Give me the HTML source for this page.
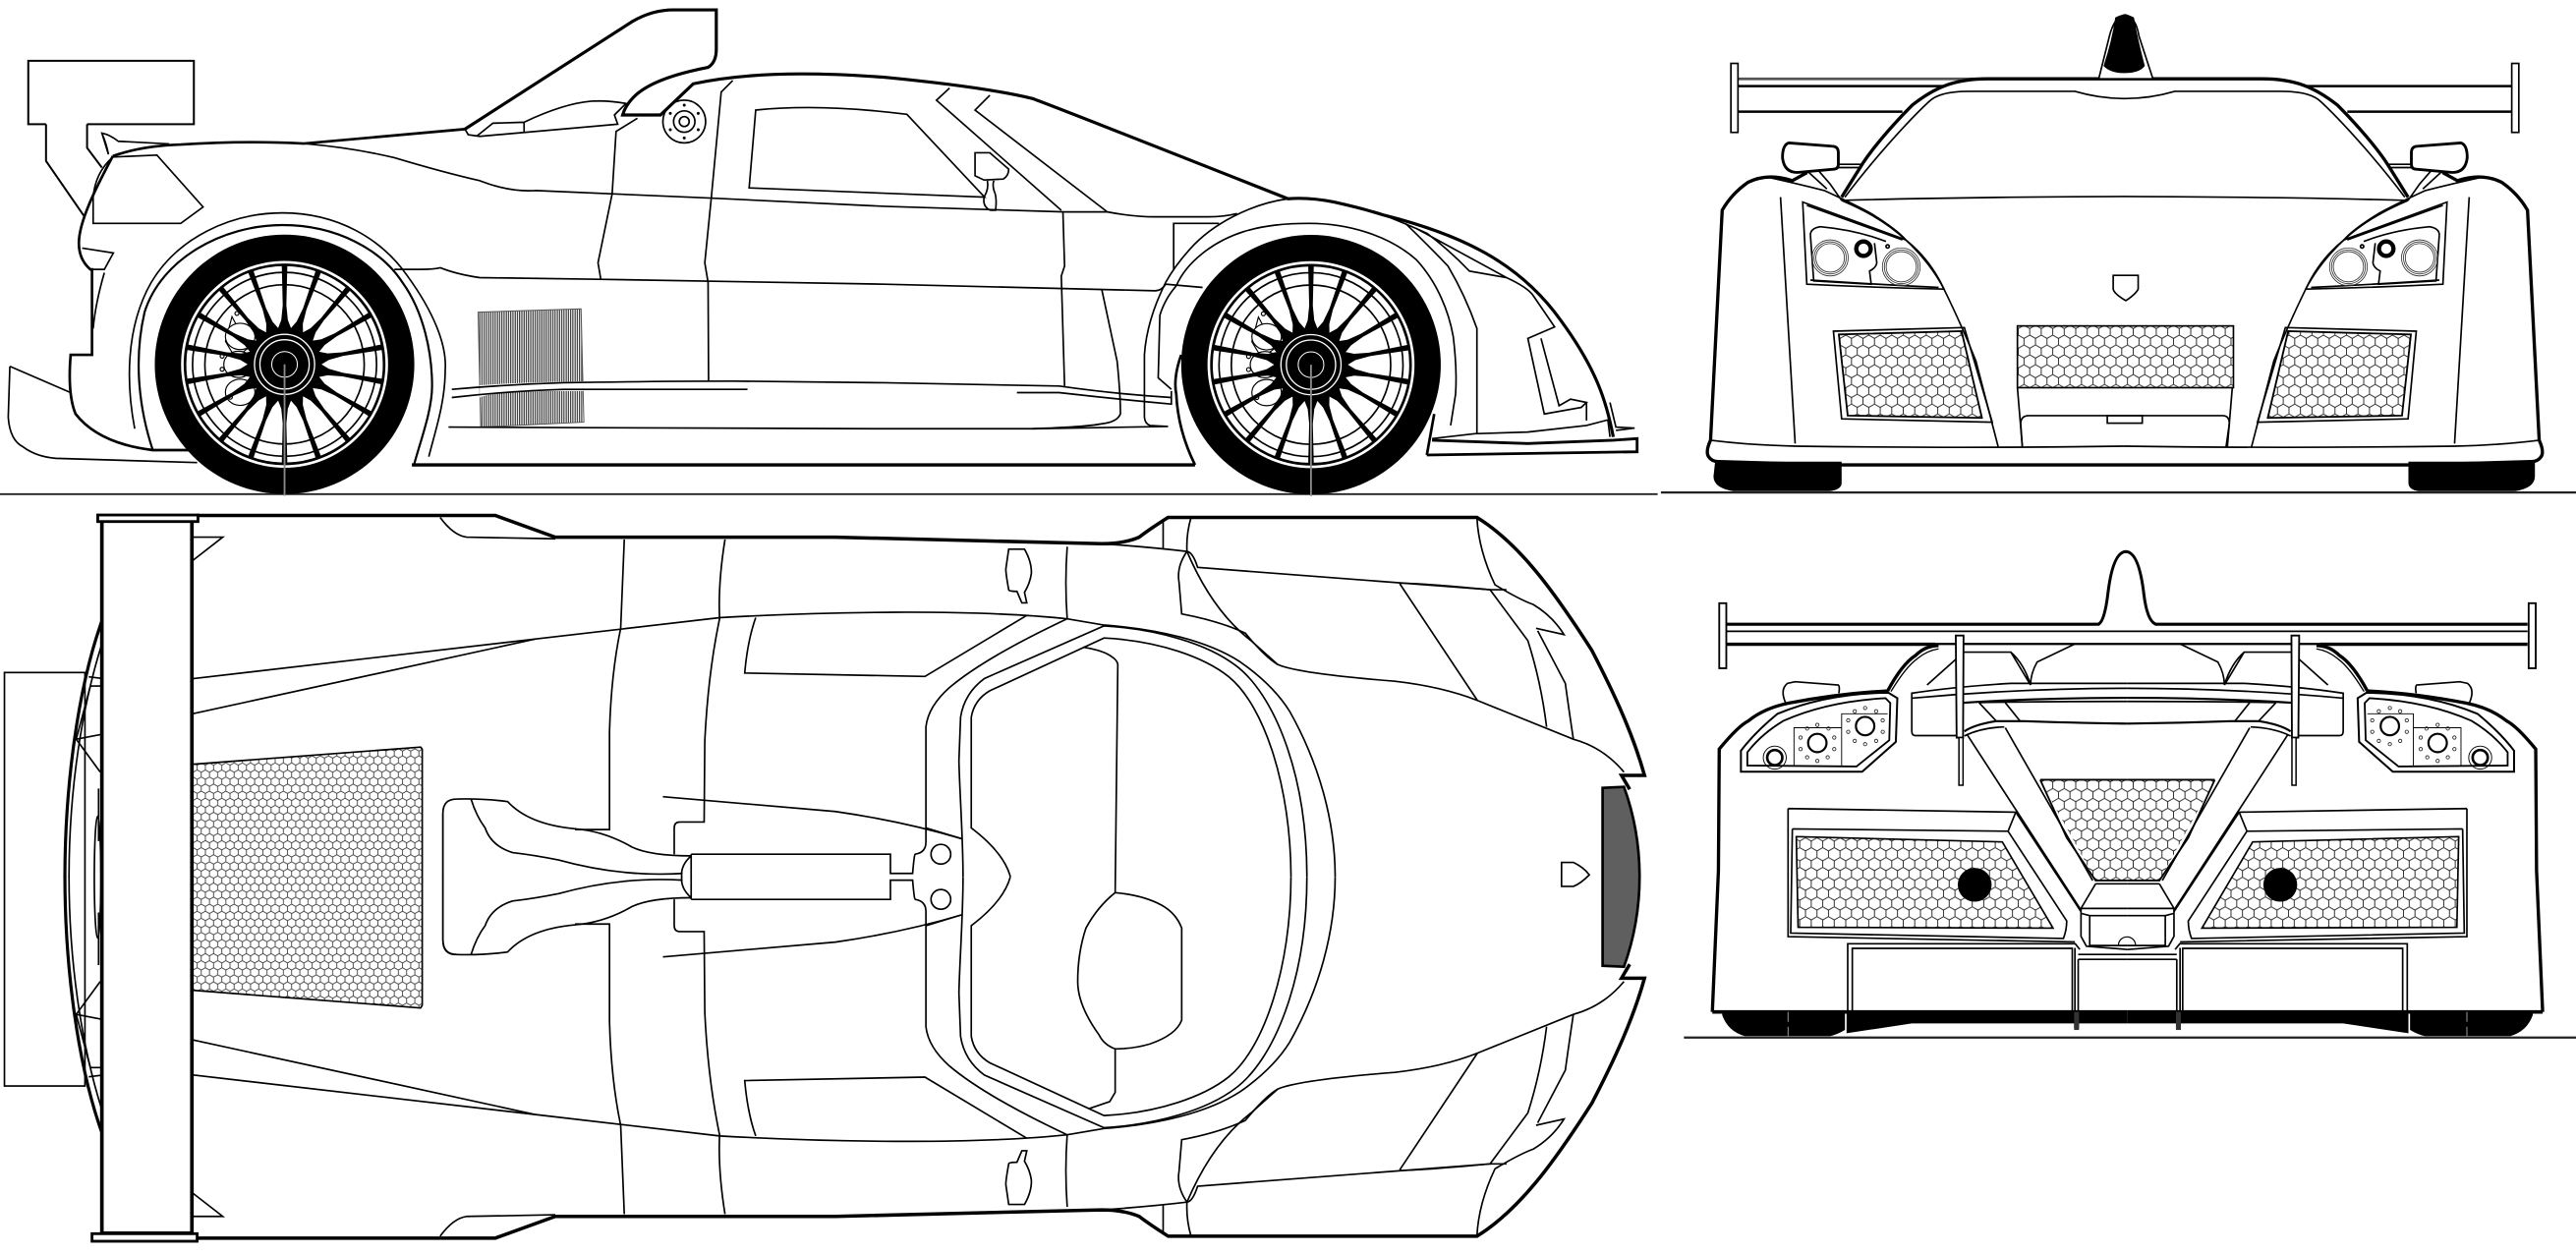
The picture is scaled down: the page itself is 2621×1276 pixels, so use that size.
<!DOCTYPE html>
<html><head><meta charset="utf-8"><title>Blueprint</title>
<style>html,body{margin:0;padding:0;background:#fff}svg{display:block}</style></head>
<body>
<svg xmlns="http://www.w3.org/2000/svg" width="2621" height="1276" viewBox="0 0 1568 763.37">
<defs>
<pattern id="hex" width="7" height="12" patternUnits="userSpaceOnUse"><path d="M0,2L3.5,0L7,2V6L3.5,8L0,6ZM3.5,8V12" fill="none" stroke="#222" stroke-width=".55"/></pattern>
<pattern id="hexs" width="5" height="8.6" patternUnits="userSpaceOnUse"><path d="M0,1.43L2.5,0L5,1.43V4.3L2.5,5.73L0,4.3ZM2.5,5.73V8.6" fill="none" stroke="#333" stroke-width=".5"/></pattern>
<pattern id="hatch" width="1.35" height="10" patternUnits="userSpaceOnUse"><path d="M.4,0V10" stroke="#111" stroke-width=".6"/></pattern>
<polygon id="sp" points="-1.7,-60.5 1.7,-60.5 1.1,-36 2,-27 5.5,-18 -5.5,-18 -2,-27 -1.1,-36" fill="#000"/>
<g id="wheel">
<circle r="79" fill="#000"/><circle r="63" fill="#fff"/>
<g fill="none" stroke="#000"><circle r="60.6" stroke-width="1.6"/><circle r="56" stroke-width="1"/><circle r="48.5" stroke-width="1"/></g>
<g fill="#fff" stroke="#000" stroke-width=".7"><path d="M-32,-29L-24,-14L-22,-10L-30,-4L-36,-14Z" fill="none"/><ellipse cx="-27" cy="-17" rx="9" ry="8"/><ellipse cx="-28" cy="0" rx="9" ry="8"/><ellipse cx="-27" cy="17" rx="9" ry="8"/><circle cx="-38" cy="-5" r="1.2"/><circle cx="-38" cy="3" r="1.2"/><circle cx="-33" cy="20" r="1.2"/><circle cx="-29" cy="-31" r="1.2"/></g>
<use href="#sp"/><use href="#sp" transform="rotate(20)"/><use href="#sp" transform="rotate(40)"/><use href="#sp" transform="rotate(60)"/><use href="#sp" transform="rotate(80)"/><use href="#sp" transform="rotate(100)"/><use href="#sp" transform="rotate(120)"/><use href="#sp" transform="rotate(140)"/><use href="#sp" transform="rotate(160)"/><use href="#sp" transform="rotate(180)"/><use href="#sp" transform="rotate(200)"/><use href="#sp" transform="rotate(220)"/><use href="#sp" transform="rotate(240)"/><use href="#sp" transform="rotate(260)"/><use href="#sp" transform="rotate(280)"/><use href="#sp" transform="rotate(300)"/><use href="#sp" transform="rotate(320)"/><use href="#sp" transform="rotate(340)"/>
<circle r="20" fill="#000"/>
<g fill="none" stroke="#fff"><circle r="18.3" stroke-width=".8"/><circle r="15" stroke-width=".8"/><circle r="7.8" stroke-width=".6"/></g>
<path d="M0,0V80" stroke="#8a8a8a" stroke-width="1.1"/>
</g>

<!-- TOP VIEW half -->
<g id="tophalf" fill="none" stroke="#000" stroke-width="1">
<path d="M62,378C47,420 39.5,480 39.5,534" stroke-width="1.9"/>
<path d="M62,392C50,430 42,480 42,534"/>
<path d="M54,412L62,413M55,417.6H62M55,417.6L46.4,450L62,447M46.4,450L61,470M60,480V512"/>
<path d="M120,313.8H301.5L338,327L508.5,327L670.6,331Q684,331 693.4,327Q700,322 711,315H899C925,331 946,360 969,396C983,423 994,447 1001,472H987L992,480.5" stroke-width="2.1"/>
<path d="M267.9,315Q276,326 284,327L338,328"/>
<path d="M116.8,327H135.6L116.8,341.6"/>
<path d="M380,328.4L377.8,382.5Q372,410 371,445.4V505H350"/>
<path d="M441.3,328.4Q437,355 438,376.7Q431,410 429,451L428.6,500.4H413.8Q410.4,500.4 410.4,504V520"/>
<path d="M116.8,413.2L326,389L438,376C500,372.5 590,370.5 649.6,376.7L672,380.5"/>
<path d="M116.8,434.6L326,389"/>
<path d="M460,376Q455,390 453.3,409.7L563,411.8L625,374.6"/>
<path d="M269.6,534V495Q269.6,486.4 278,486.4Q295,486 309,488Q322,502 350,504.5Q368,506 384.6,515.6Q396,521 420.7,521"/>
<path d="M286.7,486.4Q290,497 295.3,504Q299,515 312,519Q325,520.5 340,523.5Q378,534 415.5,531.7"/>
<path d="M420.7,520V534M420.7,521Q414,527 415,534"/>
<path d="M403.5,485L508.5,494Q550,500 585.4,510.6"/>
<path d="M420.7,520H542V531.7H555.5Q556.5,520 557,520Q563.6,519 563.6,512.7V442.5Q565,430 578,418.5Q600,400 649.6,376.7"/>
<circle cx="572.7" cy="520" r="6"/>
<path d="M586.2,533.7C586.2,510 584,480 583.7,463L584.7,436.6Q587,422 599.3,413L672,381C705,383 735,392 752,405C775,422 795.5,470 795.5,533.7"/>
<path d="M615,533.7Q611,519 591.2,504L591.2,436.6Q593,426 602.5,420.5L672,388.4C705,390 733,400 748,412C770,430 785.8,480 785.8,533.7"/>
<path d="M672,380.5C705,383 735,390 755,403Q775,417 785,433C803,465 812.7,500 812.7,533.7"/>
<path d="M649.6,332.8Q648,355 649.6,376.7M670.6,331Q700,333 722.5,335.7Q726,336 729,345.4L907,359Q912,359 917,359"/>
<path d="M852,355.3Q853,354 907,359L930,390Q938,415 941.4,442.5M852,355.3L899.3,426.4"/>
<path d="M936,384L952.8,416Q955,432 957.7,450"/>
<path d="M899,315Q900,335 910,356Q925,365 933.3,368Q945,375 952,386.3L935,382.5"/>
<path d="M725,315Q722,325 722.5,335.7Q716,345 717.7,354.7L719.3,373.7Q742,378 758,385.4Q770,400 777.7,404.5Q790,410 849,414.7Q878,418 899.3,426.4L957.7,450Q976,455 988.5,470"/>
<path d="M722.5,335.7Q738,372 761.5,390L777.7,404.5"/>
<path d="M708,316.7V334"/>
<path d="M614,334.3H623.6Q628,342 627.8,349Q627,355 623.6,360.6L625,367L622,367L619,360Q614,360 614,359Q612,348 612.3,346Z"/>
<path d="M563.6,504L585.4,510.6"/>
</g>

<!-- FRONT half -->
<g id="fronthalf" fill="none" stroke="#000" stroke-width="1">
<path d="M1058,52.4H1192M1058,68H1158" stroke-width="1.5"/>
<rect x="1053.6" y="38.6" width="4.3" height="42" fill="#fff"/>
<path d="M1293.5,48H1210C1190,48 1178,53 1164,64C1152,76 1140,90 1133.5,100L1121,120" stroke-width="2" fill="#fff"/>
<path d="M1293.5,60Q1278,60 1263,55.6H1199C1185,55.6 1178,58 1174,62C1160,75 1138,100 1123,120"/>
<path d="M1121,122Q1190,120 1293.5,119.6"/>
<path d="M1119,100H1133M1119,102H1133" stroke-width="1"/>
<path d="M1089,87L1115,89Q1119,89 1119,93V100Q1119,103 1116,103L1094,105Q1086,105 1085,96Q1085,88 1089,87Z" stroke-width="1.7" fill="#fff"/>
<path d="M1107,104L1114,112L1121,122M1100,104L1112,115"/>
<path d="M1100,105L1091,110Q1076,105 1064,111Q1054,118 1048.3,128L1041.2,268Q1038,275 1040,278Q1042,281 1046,281L1117.6,283H1293.5" stroke-width="2"/>
<path d="M1041,268Q1065,271 1092.7,271.6Q1200,273 1293.5,271.6"/>
<path d="M1076.7,108Q1095,112 1110.5,116Q1130,125 1139,130Q1155,140 1160,146Q1175,160 1183.3,176Q1195,200 1202.8,220L1216.3,272"/>
<path d="M1121,122Q1145,132 1160,146"/>
<path d="M1083.8,120L1092.7,270"/>
<path d="M1097.3,123L1160,146Q1175,158 1183.3,176Q1140,175 1099.8,173Z"/>
<path d="M1099.8,125L1158,146M1102,170.5Q1140,173 1180,175"/>
<path d="M1102,143Q1102,139 1108,138Q1130,140 1148,147M1102,143L1104,171L1139,173L1138,165Q1142,163 1142.4,160L1141,148"/>
<g stroke-width=".5" stroke="#333"><circle cx="1114" cy="157" r="11"/><circle cx="1114" cy="157" r="9.8"/><circle cx="1114" cy="157" r="8.7"/><circle cx="1157.3" cy="162.4" r="11.5"/><circle cx="1157.3" cy="162.4" r="10.3"/><circle cx="1157.3" cy="162.4" r="9.2"/></g>
<circle cx="1134.3" cy="151.4" r="4.4" stroke-width="2.6"/>
<circle cx="1149" cy="150" r="1"/>
<polygon points="1119.3,203.6 1194,201.6 1206.4,254.4 1124.7,253" fill="url(#hex)" stroke-width="1.1"/>
<path d="M1116,201.6L1195.7,199.4L1212.7,257L1121,255Z"/>
<path d="M1228,236L1231,272"/>
</g>

<!-- REAR half -->
<g id="rearhalf" fill="none" stroke="#000" stroke-width="1">
<rect x="1046.5" y="367.2" width="4.3" height="39.6" fill="#fff" stroke-width="1.1"/>
<path d="M1087.4,429Q1083,420 1088,416L1092.7,415L1119,417Q1120,418 1119.3,422" fill="#fff"/>
<path d="M1149,420.6Q1158,404 1166,399Q1172,393 1180,393" stroke-width="2"/>
<path d="M1151,421Q1160,406 1167,401Q1173,396 1180,395" stroke-width=".8"/>
<path d="M1042.3,616L1046,530L1046.5,456Q1058,442 1064.3,438.8Q1074,431 1089,428Q1120,422 1149.5,420.6" stroke-width="2"/>
<path d="M1059.7,469.8V457Q1068,446 1082,434.5Q1112,422 1149.5,421.7L1154.9,425L1154,451.6L1133.5,469.8Z" stroke-width="1.2"/>
<path d="M1063.6,466V458Q1072,447 1085.6,438.8Q1112,427 1147.7,425L1150.6,428L1150,450.6L1130,466.6Z" stroke-width="1.1"/>
<g stroke-width=".55"><path d="M1092,466.5V443H1121V434.5H1149M1121,443V466.5"/><circle cx="1080.3" cy="461.2" r="7"/></g>
<circle cx="1080.3" cy="461.2" r="4.6" stroke-width="1.6"/>
<circle cx="1106.2" cy="452.3" r="5.6" stroke-width="1.3"/>
<circle cx="1135.3" cy="442" r="5.6" stroke-width="1.3"/>
<g stroke-width=".5" stroke="#222"><circle cx="1106.2" cy="441.3" r="1"/><circle cx="1113" cy="443.5" r="1"/><circle cx="1116.5" cy="449" r="1"/><circle cx="1116.5" cy="456" r="1"/><circle cx="1112.5" cy="461" r="1"/><circle cx="1106.2" cy="463.2" r="1"/><circle cx="1100" cy="461" r="1"/><circle cx="1096" cy="456" r="1"/><circle cx="1096" cy="449" r="1"/><circle cx="1100" cy="443.5" r="1"/><circle cx="1135.3" cy="431" r="1"/><circle cx="1142" cy="433" r="1"/><circle cx="1146" cy="438.5" r="1"/><circle cx="1146" cy="445.5" r="1"/><circle cx="1142" cy="451" r="1"/><circle cx="1135.3" cy="453" r="1"/><circle cx="1129" cy="451" r="1"/><circle cx="1125" cy="445.5" r="1"/><circle cx="1125" cy="438.5" r="1"/><circle cx="1129" cy="433" r="1"/></g>
<path d="M1295,416H1224Q1190,418 1163.7,422V445Q1163.7,447.8 1166,447.8H1192"/>
<path d="M1295,419Q1230,419 1163.7,425"/>
<path d="M1173,417L1192,400M1192,397H1224L1236,417M1236,417Q1236,410 1240,403L1263,392M1224,397Q1232,404 1236,417"/>
<path d="M1295,424.8Q1240,424.8 1192,428" stroke-width="1.3"/>
<path d="M1204.6,427.7Q1240,427 1295,427"/>
<path d="M1204.6,427.7L1215,438.8M1220.6,427.7L1229.5,438.8"/>
<path d="M1195.7,445.2Q1202,441 1215,439H1232Q1260,440 1295,440.5" stroke-width="1.3"/>
<path d="M1195.7,448Q1206,443 1220,442.5"/>
<path d="M1197.5,447.4L1266.7,554"/>
<path d="M1220.6,443L1273.8,536"/>
<polygon points="1241.9,474.7 1295,474.7 1295,536 1275.6,536" fill="url(#hex)" stroke="none"/>
<path d="M1241.9,474.7H1295M1241.9,474.7L1258,510L1275.6,536H1295" stroke-width="1.1"/>
<path d="M1275.6,538H1295M1275.6,538L1266.7,553H1295M1266.7,553V556L1272,557.4H1295M1272,557.4V575.6H1295M1266.7,556V570L1270,576L1295,578"/>
<path d="M1088.4,492.2L1227,494.4L1222.3,506L1091,504.6M1088.4,492.2V570.2L1263,573.4M1091,504.6L1090,568L1256,571.3Q1258,566 1258,560.6L1222.3,506"/>
<path d="M1227,494.4L1266.7,555"/>
<polygon points="1093.4,509.3 1218.8,512.5 1249.7,565 1094.5,564.5" fill="url(#hex)" stroke-width="1"/>
<circle cx="1202" cy="538.6" r="10.3" fill="#000" stroke="none"/>
<path d="M1124.7,616V574.5H1263.2L1266,578M1127.5,616V577.3H1261.4V616M1263,577V626M1265,581H1295M1265,584H1295M1265,584V626"/>
<path d="M1042.3,616H1295" stroke-width="2.2"/>
<path d="M1048.3,616H1124V629L1163.7,623H1295V617H1048.3Z" fill="#000" stroke="none"/>
<path d="M1048.3,616H1123V627Q1118,630 1114,630.7H1062Q1052,628 1048.3,618Z" fill="#000" stroke="none"/>
<path d="M1088.4,616V632" stroke="#999" stroke-width=".6" stroke-dasharray="6 3"/>
<rect x="1262.5" y="616" width="3" height="11" fill="#333" stroke="none"/>
<path d="M1190.5,386.9H1195.2V389L1194.9,449H1191L1190.5,389Z" fill="#fff" stroke-width="1.1"/>
<path d="M1192.4,449H1194.9V478H1192.4Z" fill="#fff" stroke-width=".9"/>
</g>
</defs>

<rect width="1568" height="763.37" fill="#fff"/>

<!-- ground lines -->
<g stroke="#222" fill="none">
<path d="M0,300.8H1009" stroke-width="1.1"/>
<path d="M1011,299.8H1568" stroke-width="1.4"/>
<path d="M1025,631.6H1568" stroke-width="1.3"/>
</g>

<!-- SIDE VIEW -->
<g fill="none" stroke="#000" stroke-width="1">
<polygon points="291,190 353.7,188 355.4,257 292.6,260" fill="url(#hatch)" stroke="#555" stroke-width=".6"/>
<path d="M292,234.5Q345,231 446,232V238L343,238Q300,238 292,242Z" fill="#fff" stroke="none"/>
<path d="M28,75.6H17.2V37H118V75.6H53M28,75.6V98L51.5,132M53,75.6V90L62,102" stroke-width="1.2"/>
<path d="M66,94L62,81Q67,82 72,86L103,87.6M66,94Q65,88 62,81"/>
<path d="M68.7,95C80,91 95,88.5 110,88Q150,85.5 185,87.4L283,78.6" stroke-width="1.6"/>
<path d="M283,78.6L385,13Q397,6 410,6H436V30Q436,38 431,41Q400,47 388,57Q381,63 379,70H402L422,51Q450,45 488,45Q510,45 538,47Q600,53 628.5,60Q650,68 784,121Q797,120 812,123Q830,127 842.5,131" stroke-width="1.9"/>
<path d="M842.5,131C890,143 925,160 950,195C972,225 978,245 982,266" stroke-width="1.9"/>
<path d="M68.7,95C58,115 48,135 48,148Q48,158 55,164H56V216H43Q41,240 46,252Q60,270 93,274H115" stroke-width="1.6"/>
<path d="M283,78.6L285,82L292,83L376,75.6L374,70L381,63Q370,61 360,61.6Q343,63 319,74.4L300,75L290,83M319,74.4V81"/>
<path d="M68.7,95.6L95.5,94.4L123.6,126L110,136H56.7V120Q58,105 68.7,95.6Z"/>
<path d="M50,151L69,154L63.5,164H56M63.5,166Q58,185 56.7,200"/>
<path d="M6,223L43,239M6,223L5,254Q6,268 14,272Q22,278 34,279L120,281.6"/>
<path d="M82,261C77,235 76,200 92,172C108,145 140,129.6 172,129.6C205,129.6 232,145 248,168C264,190 272,210 271,225C271,245 265,262 261,278"/>
<path d="M93,274C85,250 81,220 88,190C98,158 135,137 172,137C205,137 232,152 245,172C258,190 263,215 263,235C263,250 256,268 252,283" stroke-width="1.3"/>
<path d="M185,87.4Q215,90 240,96Q270,105 292,110Q310,117 326,116L432.7,120.6L538,125.6L648,129H674Q690,132 703,132H735.5Q745,132 753,130"/>
<path d="M240,164H256Q264,164 268,163Q278,167 292,169L364,170L538,173L703,177Q707,177 709.5,173L732,175"/>
<path d="M273,260L538,261H628.5Q660,260 670.6,258Q680,257 682,252Q682,240 680,220L670.6,176"/>
<path d="M250.7,283H727.4" stroke-width="2"/>
<path d="M275,237Q310,234 343,233Q400,232 446,232L538,233L644.7,235Q680,240 713,242M275,242Q310,238 343,237L455,237"/>
<path d="M619,239H644.7Q680,243 713,246V238"/>
<path d="M709.5,172Q698,195 696.6,216V254Q697,258 700,259L711,259.6L628.5,261"/>
<path d="M388,72L375,80L372.6,118L364,160L365.7,170"/>
<path d="M446,49L439,56L433,120L429,160L431,172L431.3,232"/>
<circle cx="416.5" cy="74" r="13"/><circle cx="416.5" cy="74" r="6.5"/><circle cx="416.5" cy="74" r="3"/>
<g fill="#000" stroke="none"><circle cx="416.5" cy="64" r=".9"/><circle cx="425" cy="69" r=".9"/><circle cx="425" cy="79" r=".9"/><circle cx="416.5" cy="84" r=".9"/><circle cx="408" cy="79" r=".9"/><circle cx="408" cy="69" r=".9"/></g>
<path d="M460,67L456,114.4L599.3,120L552,69.6Q500,63 460,67Z"/>
<path d="M578,53.6L570,61L646,128M602.5,58L593.5,67L674,129" />
<path d="M593.5,93H602.5L614,103Q614,107 610.7,109L599,109.6L593.5,107Z" fill="#fff"/>
<path d="M601,110Q602,115 599,120Q598,126 603,128H606Q607,120 605,116Q604,112 605,110"/>
<path d="M647,129L648,162L646,168L648,235"/>
<path d="M714.4,164V136H742"/>
<path d="M784,121C762,124 738,136 724,152Q715,162 709.5,172"/>
<path d="M716,174C722,160 738,147 757,141C770,137 783,136 797,136C820,136 845,143 862,158C875,172 882,190 884.6,205Q887,225 886,240L883,259"/>
<path d="M716,174Q709,182 706,192L705,230L713,237"/>
<path d="M719,216Q714,230 716,240Q717,262 727.4,283" stroke-width="1.6"/>
<path d="M873,252L868.5,277" stroke-width="1.6"/>
<path d="M855.5,136Q870,150 881.4,162Q892,180 899,200V264"/>
<path d="M842.5,131Q860,138 868.5,142Q882,152 894.4,165L917,169L862,139M917,169Q930,175 933.3,180L946.3,199L930,206L940,252L962.5,248L965.7,245L956,243L949,247L938,206"/>
<path d="M965.7,245V256"/>
<path d="M871.7,267L897.7,264L930,263L965.7,259L978.7,255.6L980,266"/>
<path d="M871.7,268L930,270L982,268L996.5,267V275L868.5,277" stroke-width="1.7"/>
<path d="M980,245L983.6,260L995,260.6L983.6,262"/>
</g>
<use href="#wheel" transform="translate(173.2,221.8)"/>
<use href="#wheel" transform="translate(798,222)"/>

<!-- TOP VIEW -->
<rect x="2.7" y="409.4" width="49" height="251.7" fill="#fff" stroke="#000" stroke-width="1"/>
<use href="#tophalf"/>
<use href="#tophalf" transform="translate(0,1067.5) scale(1,-1)"/>
<g fill="none" stroke="#000" stroke-width="1">
<path d="M269.6,495V572Q269.6,581 278,581"/>
<polygon points="116.8,465.3 256,454.8 257,456 257,612 256,613.6 116.8,602.8" fill="url(#hexs)"/>
<ellipse cx="59.4" cy="534" rx="2" ry="37"/>
<path d="M659.3,394Q672,396 677,400Q680,402 680.4,404.5L678.8,543.4Q696,545 707,551Q716,556 719.3,565V621Q716,630 700,635.5Q690,638.5 678.8,638.5Q672,636 669,630Q656,612 656,597.5Q656,580 661,565Q668,552 678.8,543.4M678.8,638.5V665L675.5,670.6L662.5,675"/>
<path d="M950.5,525H957.7Q964,528 967.4,532.6Q962,538 957.7,539.6H950.5Z"/>
<path d="M975.5,479.6L988.5,479Q998,505 998,533.7Q998,562 988.5,588.5L975.5,587.9Z" fill="#5f5f5f" stroke-width="1.6"/>
<rect x="62" y="316.7" width="54.8" height="434" fill="#fff" stroke-width="2.2"/>
<rect x="59.5" y="313.5" width="61" height="4" fill="#fff" stroke-width="1.7"/>
<rect x="56" y="751" width="64" height="4.6" fill="#fff" stroke-width="1.7"/>
</g>

<!-- FRONT VIEW -->
<g fill="none" stroke="#000">
<path d="M1058,48H1212" stroke="#555" stroke-width="1.6"/>
<path d="M1044,281H1121V294Q1121,298 1114,299H1055Q1043,297 1043,290Z" fill="#000" stroke="none"/>
<path d="M1466,281H1543V290Q1543,297 1531,299H1472Q1466,298 1466,294Z" fill="#000" stroke="none"/>
</g>
<use href="#fronthalf"/>
<use href="#fronthalf" transform="translate(2586.8,0) scale(-1,1)"/>
<g fill="none" stroke="#000" stroke-width="1">
<path d="M1277.5,48L1284,22Q1287,10 1293.5,9Q1300,10 1302,22L1310.5,48Z" fill="#fff"/>
<path d="M1288,11Q1293,8 1298.5,11Q1301,25 1305,40Q1302,44 1293,44Q1285,44 1281,40Q1286,25 1288,11Z" fill="#000"/>
<rect x="1228" y="198.4" width="131.5" height="37.6" fill="url(#hex)" stroke-width="1"/>
<path d="M1231,272L1230,258Q1230,253 1235,253H1353Q1357,253 1357,258L1355,272"/>
<rect x="1282.7" y="253" width="21.3" height="4.6"/>
<path d="M1286.3,167.6H1301.5V176Q1300,179 1294,183Q1287,179 1286.3,176Z"/>
</g>

<!-- REAR VIEW -->
<g fill="none" stroke="#000">
<path d="M1050.8,380H1277.4Q1281,378 1283,362Q1286,336 1294,335.8Q1302,336 1305,362Q1307,378 1312.2,380H1538.5" stroke-width="1.8"/>
<path d="M1050.8,384.3H1538.5" stroke-width="1"/>
<path d="M1050.8,392.2H1178M1412,392.2H1538.5" stroke-width="2"/>
<path d="M1178,392H1412" stroke-width="1.4"/>
</g>
<use href="#rearhalf"/>
<use href="#rearhalf" transform="translate(2590,0) scale(-1,1)"/>
<path d="M1289.5,575.5A5.2,5.2 0 1 1 1299.9,575.5" fill="none" stroke="#000" stroke-width=".7"/>
</svg>
</body></html>
